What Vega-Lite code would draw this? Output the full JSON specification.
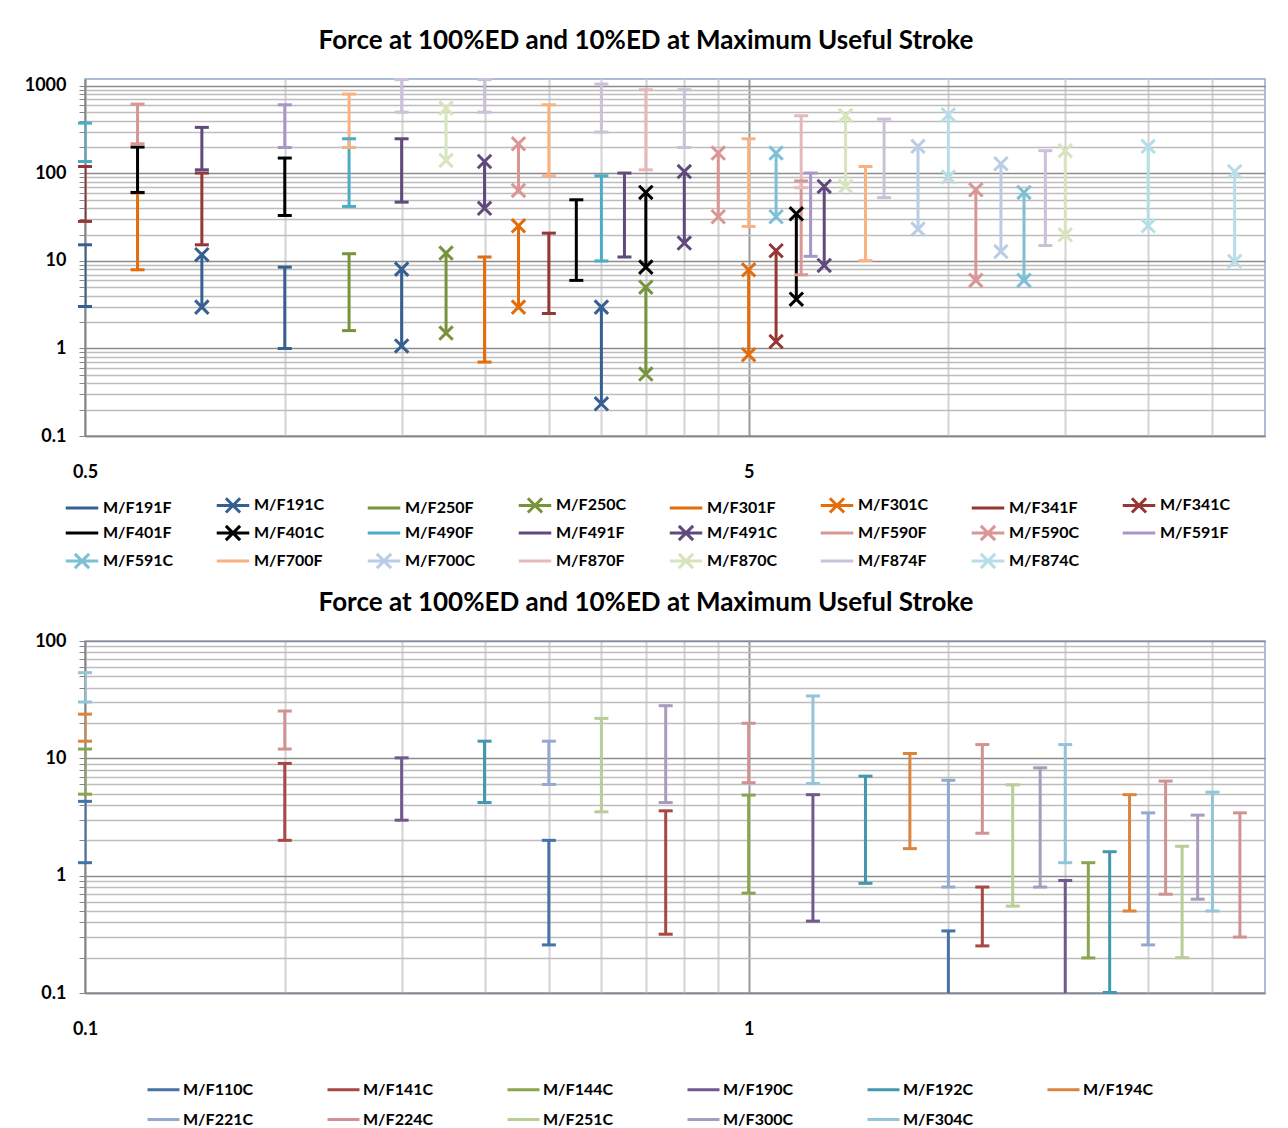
{
  "$schema": "https://vega.github.io/schema/vega-lite/v6.json",
  "background": "white",
  "padding": {"left": 23, "top": 27, "right": 5, "bottom": 5},
  "bounds": "flush",
  "spacing": 205,
  "config": {
    "view": {"stroke": "#8EA9D0", "strokeWidth": 1.5},
    "font": "Lato"
  },
  "resolve": {"scale": {"color": "independent", "x": "independent", "y": "independent"}, "legend": {"color": "independent"}},
  "vconcat": [
    {
      "width": 1180,
      "height": 357,
      "title": {"text": "Force at 100%ED and 10%ED at Maximum Useful Stroke", "font": "Lato", "fontSize": 26, "fontWeight": "bold", "color": "#000000", "anchor": "middle", "dx": -29, "offset": 23},
      "data": {"values": [
        {"series": "M/F191F", "x": 0.5, "lo": 3.02, "hi": 15.3},
        {"series": "M/F191F", "x": 1.0, "lo": 1.0, "hi": 8.5},
        {"series": "M/F191C", "x": 0.75, "lo": 2.97, "hi": 11.8},
        {"series": "M/F191C", "x": 1.5, "lo": 1.07, "hi": 8.07},
        {"series": "M/F191C", "x": 3.0, "lo": 0.233, "hi": 2.97},
        {"series": "M/F250F", "x": 1.25, "lo": 1.6, "hi": 12.1},
        {"series": "M/F250C", "x": 1.75, "lo": 1.5, "hi": 12.3},
        {"series": "M/F250C", "x": 3.5, "lo": 0.51, "hi": 5.02},
        {"series": "M/F301F", "x": 0.6, "lo": 7.93, "hi": 60},
        {"series": "M/F301F", "x": 2.0, "lo": 0.7, "hi": 11.1},
        {"series": "M/F301C", "x": 2.25, "lo": 2.97, "hi": 25.2},
        {"series": "M/F301C", "x": 5.0, "lo": 0.85, "hi": 7.93},
        {"series": "M/F341F", "x": 0.5, "lo": 28.3, "hi": 120},
        {"series": "M/F341F", "x": 0.75, "lo": 15.3, "hi": 101},
        {"series": "M/F341F", "x": 2.5, "lo": 2.51, "hi": 20.8},
        {"series": "M/F341C", "x": 5.5, "lo": 1.2, "hi": 13.1},
        {"series": "M/F401F", "x": 0.6, "lo": 60.7, "hi": 200},
        {"series": "M/F401F", "x": 1.0, "lo": 33.1, "hi": 150},
        {"series": "M/F401F", "x": 2.75, "lo": 6.0, "hi": 50},
        {"series": "M/F401C", "x": 3.5, "lo": 8.5, "hi": 60.7},
        {"series": "M/F401C", "x": 5.9, "lo": 3.66, "hi": 34.6},
        {"series": "M/F490F", "x": 0.5, "lo": 137, "hi": 376},
        {"series": "M/F490F", "x": 1.25, "lo": 42, "hi": 249},
        {"series": "M/F490F", "x": 3.0, "lo": 10, "hi": 94},
        {"series": "M/F491F", "x": 0.75, "lo": 110, "hi": 336},
        {"series": "M/F491F", "x": 1.5, "lo": 47, "hi": 249},
        {"series": "M/F491F", "x": 3.25, "lo": 11.1, "hi": 101},
        {"series": "M/F491C", "x": 2.0, "lo": 40, "hi": 137},
        {"series": "M/F491C", "x": 4.0, "lo": 16, "hi": 105},
        {"series": "M/F491C", "x": 6.5, "lo": 8.9, "hi": 71},
        {"series": "M/F590F", "x": 0.6, "lo": 218, "hi": 620},
        {"series": "M/F590F", "x": 6.0, "lo": 6.95, "hi": 82},
        {"series": "M/F590C", "x": 2.25, "lo": 64, "hi": 218},
        {"series": "M/F590C", "x": 4.5, "lo": 32, "hi": 171},
        {"series": "M/F590C", "x": 11, "lo": 6.0, "hi": 65},
        {"series": "M/F591F", "x": 1.0, "lo": 198, "hi": 609},
        {"series": "M/F591F", "x": 6.2, "lo": 11.3, "hi": 101},
        {"series": "M/F591C", "x": 5.5, "lo": 32, "hi": 171},
        {"series": "M/F591C", "x": 13, "lo": 6.0, "hi": 60.7},
        {"series": "M/F700F", "x": 1.25, "lo": 198, "hi": 807},
        {"series": "M/F700F", "x": 2.5, "lo": 94, "hi": 609},
        {"series": "M/F700F", "x": 5.0, "lo": 24.8, "hi": 249},
        {"series": "M/F700F", "x": 7.5, "lo": 10.1, "hi": 120},
        {"series": "M/F700C", "x": 9, "lo": 23.1, "hi": 204},
        {"series": "M/F700C", "x": 12, "lo": 12.8, "hi": 129},
        {"series": "M/F870F", "x": 3.5, "lo": 110, "hi": 904},
        {"series": "M/F870F", "x": 6.0, "lo": 68.7, "hi": 456},
        {"series": "M/F870C", "x": 1.75, "lo": 141, "hi": 558},
        {"series": "M/F870C", "x": 7.0, "lo": 71, "hi": 460},
        {"series": "M/F870C", "x": 15, "lo": 19.9, "hi": 182},
        {"series": "M/F874F", "x": 1.5, "lo": 502, "hi": 1180},
        {"series": "M/F874F", "x": 2.0, "lo": 502, "hi": 1180},
        {"series": "M/F874F", "x": 3.0, "lo": 297, "hi": 1050},
        {"series": "M/F874F", "x": 4.0, "lo": 198, "hi": 904},
        {"series": "M/F874F", "x": 8.0, "lo": 53, "hi": 418},
        {"series": "M/F874F", "x": 14, "lo": 15, "hi": 182},
        {"series": "M/F874C", "x": 10, "lo": 91, "hi": 468},
        {"series": "M/F874C", "x": 20, "lo": 25.2, "hi": 204},
        {"series": "M/F874C", "x": 27, "lo": 9.9, "hi": 105}
      ]},
      "layer": [
        {
          "mark": {"type": "rule", "strokeWidth": 3, "clip": true},
          "encoding": {
            "x": {"field": "x", "type": "quantitative", "scale": {"type": "log", "domain": [0.5, 30], "nice": false},
              "axis": {"title": null, "values": [0.5, 1, 1.5, 2, 2.5, 3, 3.5, 4, 4.5, 5, 10, 15, 20, 25], "format": "~g",
                "labelExpr": "datum.value == 0.5 || datum.value == 5 ? datum.label : ''",
                "labelOverlap": false, "labelFlush": false, "labelBound": false,
                "labelFont": "Lato", "labelFontSize": 18, "labelFontWeight": "bold", "labelColor": "#000000", "labelPadding": 27,
                "ticks": false, "domainColor": "#868686", "domainWidth": 1.5,
                "grid": true, "gridWidth": 2,
                "gridColor": {"condition": {"test": "datum.value == 0.5 || datum.value == 5", "value": "#9A9A9A"}, "value": "#D3D3D3"}}},
            "y": {"field": "lo", "type": "quantitative", "scale": {"type": "log", "domain": [0.1, 1200], "nice": false},
              "axis": {"title": null, "values": [0.1, 0.2, 0.3, 0.4, 0.5, 0.6, 0.7, 0.8, 0.9, 1, 2, 3, 4, 5, 6, 7, 8, 9, 10, 20, 30, 40, 50, 60, 70, 80, 90, 100, 200, 300, 400, 500, 600, 700, 800, 900, 1000], "format": "~g",
                "labelExpr": "datum.value == 0.1 || datum.value == 1 || datum.value == 10 || datum.value == 100 || datum.value == 1000 ? datum.label : ''",
                "labelOverlap": false, "labelFlush": false, "labelBound": false,
                "labelFont": "Lato", "labelFontSize": 18, "labelFontWeight": "bold", "labelColor": "#000000", "labelPadding": 13,
                "ticks": true, "tickSize": 6, "tickColor": "#868686", "domainColor": "#868686", "domainWidth": 1.5,
                "grid": true, "gridWidth": 1.5,
                "gridColor": {"condition": {"test": "datum.value == 0.1 || datum.value == 1 || datum.value == 10 || datum.value == 100 || datum.value == 1000", "value": "#8C8C8C"}, "value": "#BDBDBD"}}},
            "y2": {"field": "hi"},
            "color": {"field": "series", "type": "nominal",
              "scale": {"domain": ["M/F191F", "M/F191C", "M/F250F", "M/F250C", "M/F301F", "M/F301C", "M/F341F", "M/F341C", "M/F401F", "M/F401C", "M/F490F", "M/F491F", "M/F491C", "M/F590F", "M/F590C", "M/F591F", "M/F591C", "M/F700F", "M/F700C", "M/F870F", "M/F870C", "M/F874F", "M/F874C"],
                "range": ["#376092", "#376092", "#77933C", "#77933C", "#E46C0A", "#E46C0A", "#953735", "#953735", "#000000", "#000000", "#4BACC6", "#604A7B", "#604A7B", "#D99694", "#D99694", "#A996C9", "#7CC0D6", "#F9B27F", "#B9CDE5", "#E6B9B8", "#D7E4BD", "#CCC1DA", "#B7DEE8"]},
              "legend": {"title": null, "orient": "none", "legendX": -17, "legendY": 412, "columns": 8, "direction": "horizontal",
                "gridAlign": "all", "columnPadding": 36, "rowPadding": 0, "symbolSize": 625, "symbolStrokeWidth": 3, "labelOffset": 7,
                "labelFont": "Lato", "labelFontSize": 16, "labelFontWeight": "bold", "labelColor": "#000000", "labelLimit": 200,
                "encode": {"symbols": {"update": {"shape": {"signal": "substring(datum.value, 6) == 'C' ? 'M-1.3,0H1.3M-0.57,-0.57L0.57,0.57M-0.57,0.57L0.57,-0.57' : 'M-1.3,0H1.3'"}, "strokeWidth": {"value": 3}}}}}}
          }
        },
        {
          "transform": [{"filter": "substring(datum.series, 6) == 'F'"}, {"fold": ["lo", "hi"], "as": ["end", "v"]}],
          "mark": {"type": "tick", "orient": "horizontal", "size": 14, "thickness": 3, "clip": false, "opacity": 1},
          "encoding": {
            "x": {"field": "x", "type": "quantitative"},
            "y": {"field": "v", "type": "quantitative"},
            "color": {"field": "series", "type": "nominal", "legend": null}
          }
        },
        {
          "transform": [{"filter": "substring(datum.series, 6) == 'C'"}, {"fold": ["lo", "hi"], "as": ["end", "v"]}],
          "mark": {"type": "point", "shape": "M-1,-1L1,1M-1,1L1,-1", "size": 180, "strokeWidth": 3, "filled": false, "opacity": 1, "clip": false},
          "encoding": {
            "x": {"field": "x", "type": "quantitative"},
            "y": {"field": "v", "type": "quantitative"},
            "color": {"field": "series", "type": "nominal", "legend": null}
          }
        }
      ]
    },
    {
      "width": 1180,
      "height": 352,
      "title": {"text": "Force at 100%ED and 10%ED at Maximum Useful Stroke", "font": "Lato", "fontSize": 26, "fontWeight": "bold", "color": "#000000", "anchor": "middle", "dx": -29, "offset": 16},
      "data": {"values": [
        {"series": "M/F110C", "x": 0.1, "lo": 1.29, "hi": 4.3},
        {"series": "M/F110C", "x": 0.5, "lo": 0.257, "hi": 2.0},
        {"series": "M/F110C", "x": 2.0, "lo": 0.08, "hi": 0.338},
        {"series": "M/F141C", "x": 0.2, "lo": 2.0, "hi": 9.05},
        {"series": "M/F141C", "x": 0.75, "lo": 0.317, "hi": 3.57},
        {"series": "M/F141C", "x": 2.25, "lo": 0.252, "hi": 0.8},
        {"series": "M/F144C", "x": 0.1, "lo": 4.95, "hi": 12.0},
        {"series": "M/F144C", "x": 1.0, "lo": 0.71, "hi": 4.86},
        {"series": "M/F144C", "x": 3.25, "lo": 0.199, "hi": 1.29},
        {"series": "M/F190C", "x": 0.3, "lo": 2.97, "hi": 10.1},
        {"series": "M/F190C", "x": 1.25, "lo": 0.41, "hi": 4.9},
        {"series": "M/F190C", "x": 3.0, "lo": 0.08, "hi": 0.91},
        {"series": "M/F192C", "x": 0.4, "lo": 4.2, "hi": 14.0},
        {"series": "M/F192C", "x": 1.5, "lo": 0.86, "hi": 7.05},
        {"series": "M/F192C", "x": 3.5, "lo": 0.101, "hi": 1.6},
        {"series": "M/F194C", "x": 0.1, "lo": 14.0, "hi": 23.8},
        {"series": "M/F194C", "x": 1.75, "lo": 1.7, "hi": 11.0},
        {"series": "M/F194C", "x": 3.75, "lo": 0.5, "hi": 4.9},
        {"series": "M/F221C", "x": 0.5, "lo": 5.99, "hi": 14.0},
        {"series": "M/F221C", "x": 2.0, "lo": 0.8, "hi": 6.5},
        {"series": "M/F221C", "x": 4.0, "lo": 0.257, "hi": 3.43},
        {"series": "M/F224C", "x": 0.2, "lo": 12.0, "hi": 25.3},
        {"series": "M/F224C", "x": 1.0, "lo": 6.2, "hi": 19.9},
        {"series": "M/F224C", "x": 2.25, "lo": 2.3, "hi": 13.1},
        {"series": "M/F224C", "x": 4.25, "lo": 0.695, "hi": 6.4},
        {"series": "M/F224C", "x": 5.5, "lo": 0.3, "hi": 3.43},
        {"series": "M/F251C", "x": 0.6, "lo": 3.5, "hi": 21.9},
        {"series": "M/F251C", "x": 2.5, "lo": 0.55, "hi": 5.95},
        {"series": "M/F251C", "x": 4.5, "lo": 0.2, "hi": 1.78},
        {"series": "M/F300C", "x": 0.75, "lo": 4.2, "hi": 28.1},
        {"series": "M/F300C", "x": 2.75, "lo": 0.8, "hi": 8.3},
        {"series": "M/F300C", "x": 4.75, "lo": 0.63, "hi": 3.28},
        {"series": "M/F304C", "x": 0.1, "lo": 30.2, "hi": 53.7},
        {"series": "M/F304C", "x": 1.25, "lo": 6.1, "hi": 34},
        {"series": "M/F304C", "x": 3.0, "lo": 1.29, "hi": 13.1},
        {"series": "M/F304C", "x": 5.0, "lo": 0.5, "hi": 5.15}
      ]},
      "layer": [
        {
          "mark": {"type": "rule", "strokeWidth": 3, "clip": true},
          "encoding": {
            "x": {"field": "x", "type": "quantitative", "scale": {"type": "log", "domain": [0.1, 6], "nice": false},
              "axis": {"title": null, "values": [0.1, 0.2, 0.3, 0.4, 0.5, 0.6, 0.7, 0.8, 0.9, 1, 2, 3, 4, 5], "format": "~g",
                "labelExpr": "datum.value == 0.1 || datum.value == 1 ? datum.label : ''",
                "labelOverlap": false, "labelFlush": false, "labelBound": false,
                "labelFont": "Lato", "labelFontSize": 18, "labelFontWeight": "bold", "labelColor": "#000000", "labelPadding": 27,
                "ticks": false, "domainColor": "#868686", "domainWidth": 1.5,
                "grid": true, "gridWidth": 2,
                "gridColor": {"condition": {"test": "datum.value == 0.1 || datum.value == 1", "value": "#9A9A9A"}, "value": "#D3D3D3"}}},
            "y": {"field": "lo", "type": "quantitative", "scale": {"type": "log", "domain": [0.1, 100], "nice": false},
              "axis": {"title": null, "values": [0.1, 0.2, 0.3, 0.4, 0.5, 0.6, 0.7, 0.8, 0.9, 1, 2, 3, 4, 5, 6, 7, 8, 9, 10, 20, 30, 40, 50, 60, 70, 80, 90, 100], "format": "~g",
                "labelExpr": "datum.value == 0.1 || datum.value == 1 || datum.value == 10 || datum.value == 100 ? datum.label : ''",
                "labelOverlap": false, "labelFlush": false, "labelBound": false,
                "labelFont": "Lato", "labelFontSize": 18, "labelFontWeight": "bold", "labelColor": "#000000", "labelPadding": 13,
                "ticks": true, "tickSize": 6, "tickColor": "#868686", "domainColor": "#868686", "domainWidth": 1.5,
                "grid": true, "gridWidth": 1.5,
                "gridColor": {"condition": {"test": "datum.value == 0.1 || datum.value == 1 || datum.value == 10 || datum.value == 100", "value": "#8C8C8C"}, "value": "#BDBDBD"}}},
            "y2": {"field": "hi"},
            "color": {"field": "series", "type": "nominal",
              "scale": {"domain": ["M/F110C", "M/F141C", "M/F144C", "M/F190C", "M/F192C", "M/F194C", "M/F221C", "M/F224C", "M/F251C", "M/F300C", "M/F304C"],
                "range": ["#4572A7", "#AA4643", "#89A54E", "#71588F", "#4198AF", "#DB843D", "#93A9CF", "#D19392", "#B9CD96", "#A99BBD", "#92C5D8"]},
              "legend": {"title": null, "orient": "none", "legendX": 61, "legendY": 431, "columns": 6, "direction": "horizontal",
                "gridAlign": "all", "columnPadding": 67, "rowPadding": 4, "symbolSize": 1024, "symbolStrokeWidth": 3, "labelOffset": 2,
                "labelFont": "Lato", "labelFontSize": 16, "labelFontWeight": "bold", "labelColor": "#000000", "labelLimit": 200,
                "encode": {"symbols": {"update": {"shape": {"value": "M-1,0H1"}, "strokeWidth": {"value": 3}}}}}}
          }
        },
        {
          "transform": [{"fold": ["lo", "hi"], "as": ["end", "v"]}, {"filter": "datum.v >= 0.1"}],
          "mark": {"type": "tick", "orient": "horizontal", "size": 14, "thickness": 3, "clip": false, "opacity": 1},
          "encoding": {
            "x": {"field": "x", "type": "quantitative"},
            "y": {"field": "v", "type": "quantitative"},
            "color": {"field": "series", "type": "nominal", "legend": null}
          }
        }
      ]
    }
  ]
}
